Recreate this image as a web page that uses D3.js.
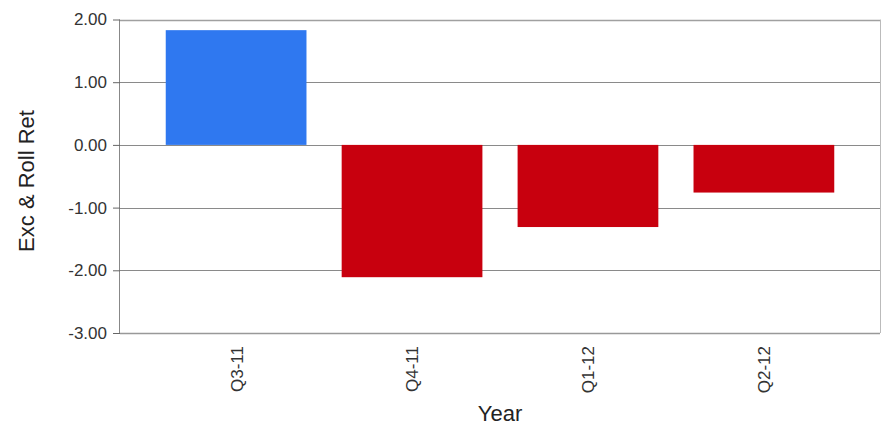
<!DOCTYPE html>
<html><head><meta charset="utf-8">
<script src="https://cdn.jsdelivr.net/npm/d3@7"></script>
<style>body{margin:0;background:#fff}svg{display:block;font-family:"Liberation Sans",Arial,sans-serif}</style>
</head><body><svg id="c" width="882" height="425"></svg>
<script>
const categories = ["Q3-11","Q4-11","Q1-12","Q2-12"];
const values = [1.83, -2.11, -1.31, -0.76];
const yTicks = [2,1,0,-1,-2,-3];
const yTitle = "Exc & Roll Ret";
const xTitle = "Year";

const svg = d3.select("#c");
const L=120, R=880, T=19.5, B=333;
const y = d3.scaleLinear().domain([-3,2]).range([B,T]);
const x = d3.scalePoint().domain(categories).range([L,R]).padding(0.66);
const bw = x.step()*0.8;
const fmt = d => d3.format(".2f")(d).replace("\u2212","-");

// gridlines
svg.append("g").selectAll("line").data(yTicks.filter(d=>d>-3)).join("line")
  .attr("x1",L).attr("x2",R).attr("y1",d=>Math.round(y(d))+0.5).attr("y2",d=>Math.round(y(d))+0.5)
  .attr("stroke",d=>d===2?"#a0a0a0":"#8a8a8a").attr("stroke-width",d=>d===2?1.5:1);
// right border
svg.append("line").attr("x1",R+0.5).attr("x2",R+0.5).attr("y1",T).attr("y2",B).attr("stroke","#bbb");

// bars
svg.append("g").selectAll("rect").data(values).join("rect")
  .attr("x",(d,i)=>x(categories[i])-bw/2).attr("width",bw)
  .attr("y",d=>y(Math.max(0,d))).attr("height",d=>Math.abs(y(d)-y(0)))
  .attr("fill",d=>d>=0?"#2f78f0":"#c8000e");

// y axis
const ya = svg.append("g").attr("transform",`translate(${L},0)`)
  .call(d3.axisLeft(y).tickValues(yTicks).tickFormat(fmt).tickSize(7).tickPadding(6));
ya.select(".domain").attr("stroke","#888").attr("d",`M-0.5,${T}V${B}`);
ya.selectAll(".tick line").attr("stroke","#666");
ya.selectAll("text").attr("font-size",17).attr("fill","#333").attr("font-family","Liberation Sans, Arial, sans-serif");

// x axis
const xa = svg.append("g").attr("transform",`translate(0,${B})`)
  .call(d3.axisBottom(x).tickSize(0).tickPadding(0));
xa.select(".domain").attr("stroke","#999").attr("stroke-width",1.5).attr("d",`M${L},0.5H${R}`);
xa.selectAll(".tick text").attr("font-size",17).attr("fill","#333")
  .attr("font-family","Liberation Sans, Arial, sans-serif")
  .attr("transform","rotate(-90)").attr("text-anchor","end").attr("x",-13).attr("y",0).attr("dy","0.35em");

svg.append("text").attr("x",(L+R)/2).attr("y",421).attr("text-anchor","middle")
  .attr("font-size",22).attr("fill","#222").text(xTitle);
svg.append("text").attr("transform","translate(34,181) rotate(-90)").attr("text-anchor","middle")
  .attr("font-size",22).attr("fill","#222").text(yTitle);
</script></body></html>
